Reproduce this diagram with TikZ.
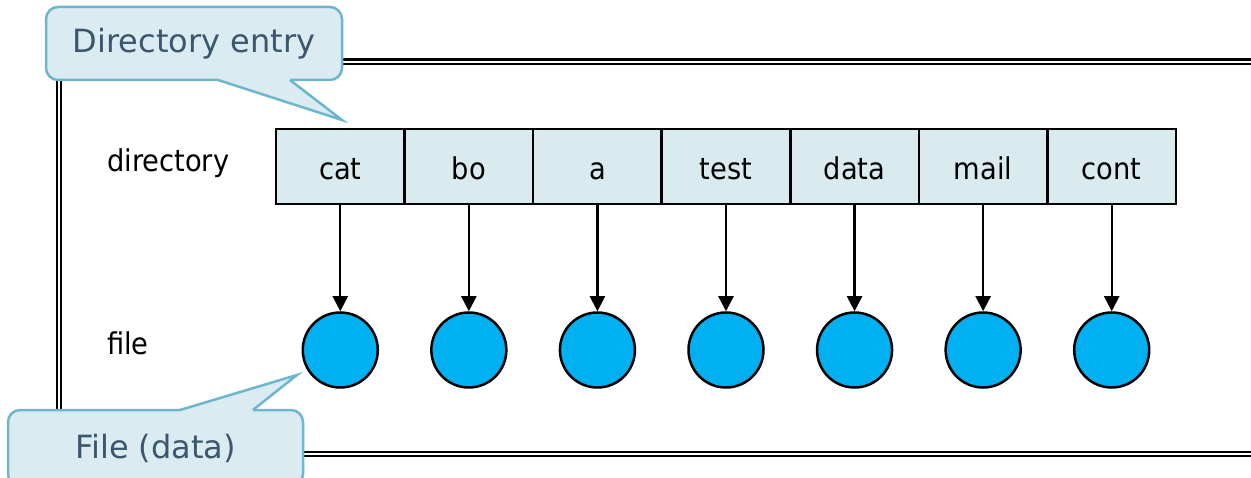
\documentclass[tikz,border=0pt]{standalone}
\usepackage{fontspec}
\setmainfont{DejaVu Sans}
\newfontfamily\narrowsans[FakeStretch=0.91]{DejaVu Sans}
\usetikzlibrary{arrows.meta}

\definecolor{cellfill}{HTML}{DAEBEF}
\definecolor{notefill}{HTML}{DAEBF2}
\definecolor{noteline}{HTML}{6DB6CC}
\definecolor{notetext}{HTML}{3C566C}
\definecolor{filefill}{HTML}{00B0F0}

\tikzset{
  cell/.style={draw=black, line width=2.5pt, fill=cellfill, rectangle,
    minimum width=128.57pt, minimum height=75pt, inner sep=0pt,
    text height=27pt, text depth=0pt,
    font=\narrowsans\fontsize{30}{36}\selectfont},
  datafile/.style={draw=black, line width=2.5pt, fill=filefill, circle,
    minimum size=75pt, inner sep=0pt},
  link/.style={draw=black, line width=2.3pt, -{Triangle[length=15pt, width=15pt]}},
  rowlabel/.style={anchor=base west, inner sep=0pt,
    font=\narrowsans\fontsize{30}{36}\selectfont},
  notebox/.style={draw=noteline, line width=2.5pt, fill=notefill,
    rounded corners=12pt, inner sep=0pt, text=notetext,
    font=\fontsize{32}{38}\selectfont},
  notetail/.style={draw=noteline, line width=2.5pt, line join=miter},
  frameline/.style={draw=black, line width=2.3pt}
}

\begin{document}
\begin{tikzpicture}[x=1pt, y=-1pt]
\useasboundingbox (0,0) rectangle (1251,478);
\clip (0,0) rectangle (1251,478);

% double frame, running off to the right
\draw[frameline] (1300,59.5) -- (57,59.5) -- (57,456) -- (1300,456);
\draw[frameline] (1300,63.8) -- (61.3,63.8) -- (61.3,451.7) -- (1300,451.7);

% row labels
\node[rowlabel] (lbldir) at (107,172) {directory};
\node[rowlabel] (lblfile) at (107,355) {file};

% directory entries and the files they point to
\foreach \name [count=\i] in {cat,bo,a,test,data,mail,cont} {
  \pgfmathsetmacro{\cx}{276+64.285+128.57*(\i-1)}
  \node[cell] (c\i) at (\cx,166.5) {\name};
  \node[datafile] (f\i) at (\cx,350) {};
  \draw[link] (c\i.south) -- (f\i.north);
}

% callout: directory entry
\node[notebox, minimum width=296pt, minimum height=73pt] (dirnote) at (194,43.5) {Directory entry};
\coordinate (dirtip) at (342,120);
\coordinate (dirbaseA) at (218,80);
\coordinate (dirbaseB) at (290,80);
\fill[notefill] (dirbaseA) -- (dirtip) -- (dirbaseB) -- (290,77) -- (218,77) -- cycle;
\draw[notetail] (dirbaseA) -- (dirtip) -- (dirbaseB);

% callout: file (data)
\node[notebox, minimum width=295pt, minimum height=76pt] (filenote) at (155.5,448) {File (data)};
\coordinate (filetip) at (297,375);
\coordinate (filebaseA) at (180,410);
\coordinate (filebaseB) at (253,410);
\fill[notefill] (filebaseA) -- (filetip) -- (filebaseB) -- (253,413) -- (180,413) -- cycle;
\draw[notetail] (filebaseA) -- (filetip) -- (filebaseB);
\end{tikzpicture}
\end{document}
